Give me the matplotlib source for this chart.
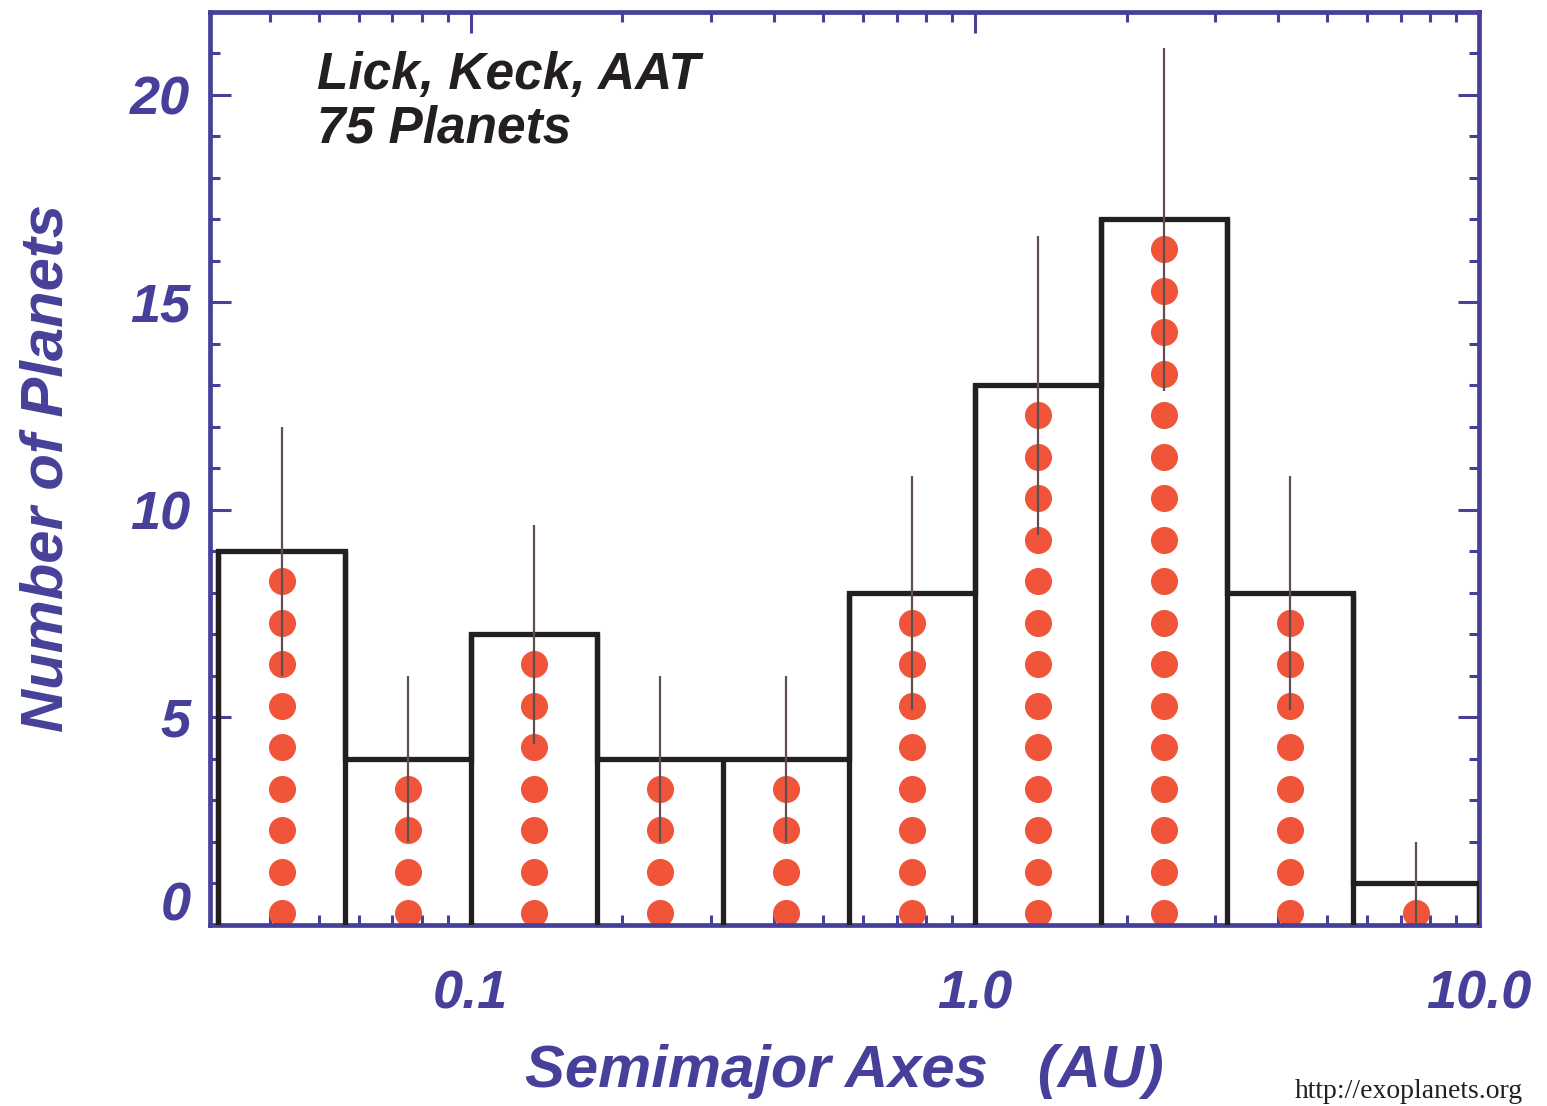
import numpy as np
import matplotlib
matplotlib.use("Agg")
import matplotlib.pyplot as plt
from matplotlib.ticker import LogLocator, FixedLocator, FixedFormatter, NullFormatter
import matplotlib.transforms as mtransforms

# --- DATA ---
bin_edges_log = [-1.5, -1.25, -1.0, -0.75, -0.5, -0.25, 0.0, 0.25, 0.5, 0.75, 1.0]
counts = [9, 4, 7, 4, 4, 8, 13, 17, 8, 1]
x_ticks = [0.1, 1.0, 10.0]
x_tick_labels = ["0.1", "1.0", "10.0"]
y_ticks = [0, 5, 10, 15, 20]
y_tick_labels = ["0", "5", "10", "15", "20"]

# --- STYLE ---
BLUE = "#46409a"
RED = "#f0553a"
BLACK = "#231f20"
ERR = "#5e4e50"
FONT = "Liberation Sans"

edges = 10 ** np.array(bin_edges_log)
centers = 10 ** ((np.array(bin_edges_log[:-1]) + np.array(bin_edges_log[1:])) / 2)
counts = np.array(counts)

fig = plt.figure(figsize=(15.47, 11.06), dpi=100)
ax = fig.add_axes([0.1357, 0.1637, 0.8203, 0.8255])

# red dots, one per planet
for xc, n in zip(centers, counts):
	ys = np.arange(n) + 0.28
	ax.plot([xc] * n, ys, "o", color=RED, markersize=19.5, markeredgewidth=0, zorder=2)

# histogram outline
ax.stairs(counts, edges, color=BLACK, linewidth=3.8, zorder=3)
for i, e in enumerate(edges):
	left = counts[i - 1] if i > 0 else 0
	right = counts[i] if i < len(counts) else 0
	ax.plot([e, e], [0, max(left, right)], color=BLACK, linewidth=3.8, zorder=3,
		solid_capstyle="butt")

# poisson error bars
err = np.sqrt(counts)
ax.vlines(centers, counts - err, counts + err, color=ERR, linewidth=1.6, zorder=4)

ax.set_xscale("log")
ax.set_xlim(10 ** -1.517, 10.0)
ax.set_ylim(0, 22)

for s in ax.spines.values():
	s.set_color(BLUE)
	s.set_linewidth(3.4)

ax.xaxis.set_major_locator(FixedLocator(x_ticks))
ax.xaxis.set_major_formatter(FixedFormatter(x_tick_labels))
ax.xaxis.set_minor_locator(LogLocator(base=10, subs=np.arange(2, 10)))
ax.xaxis.set_minor_formatter(NullFormatter())
ax.yaxis.set_major_locator(FixedLocator(y_ticks))
ax.yaxis.set_major_formatter(FixedFormatter(y_tick_labels))
ax.yaxis.set_minor_locator(FixedLocator(np.arange(0, 23, 1)))

ax.tick_params(which="both", direction="in", top=True, right=True, color=BLUE, width=2.2)
ax.tick_params(which="major", length=15)
ax.tick_params(which="minor", length=7)
ax.tick_params(axis="x", which="major", pad=32)
ax.tick_params(axis="y", which="major", pad=14)

for lab in ax.get_xticklabels() + ax.get_yticklabels():
	lab.set_fontfamily(FONT)
	lab.set_fontsize(39)
	lab.set_fontweight("bold")
	lab.set_fontstyle("italic")
	lab.set_color(BLUE)

# nudge "0" label up off the x axis
ylabs = ax.get_yticklabels()
ylabs[0].set_transform(ylabs[0].get_transform() +
	mtransforms.ScaledTranslation(0, 0.24, fig.dpi_scale_trans))

ax.set_xlabel("Semimajor Axes   (AU)", fontfamily=FONT, fontsize=43, fontweight="bold",
	fontstyle="italic", color=BLUE, labelpad=18)
ax.set_ylabel("Number of Planets", fontfamily=FONT, fontsize=43, fontweight="bold",
	fontstyle="italic", color=BLUE, labelpad=40)

ax.text(0.084, 0.957, "Lick, Keck, AAT\n75 Planets", transform=ax.transAxes,
	fontfamily=FONT, fontsize=37, fontweight="bold", fontstyle="italic",
	color=BLACK, va="top", ha="left", linespacing=1.12)

fig.text(0.837, 0.002, "http://exoplanets.org", fontfamily="Liberation Serif",
	fontsize=20, color=BLACK, va="bottom", ha="left")

fig.savefig("out.png", dpi=100)
